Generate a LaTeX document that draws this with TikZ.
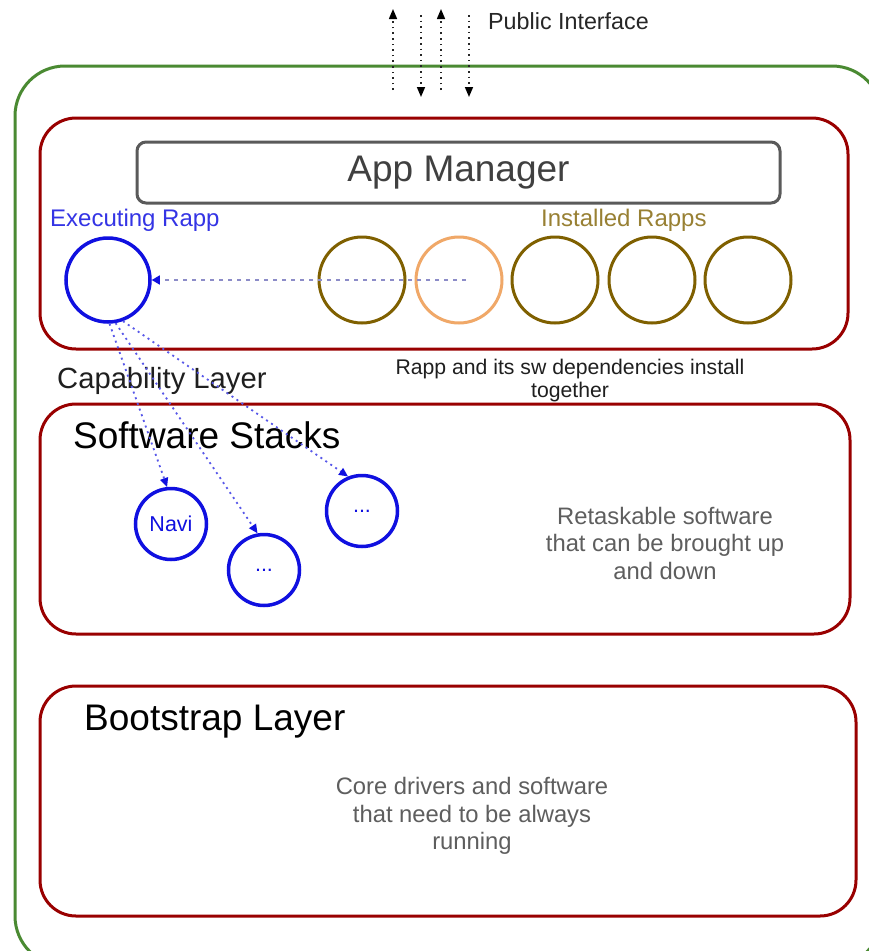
\documentclass[tikz,border=0pt]{standalone}
\usepackage{fontspec}
\setmainfont{Liberation Sans}
\usetikzlibrary{arrows.meta}

\definecolor{framegreen}{HTML}{4A8A32}
\definecolor{layerred}{HTML}{990000}
\definecolor{mgrgray}{HTML}{5A5A5A}
\definecolor{rappblue}{HTML}{1010E0}
\definecolor{olive}{HTML}{7F6000}
\definecolor{lightorange}{HTML}{F0A868}
\definecolor{notegray}{HTML}{5E5E5E}
\definecolor{flowblue}{HTML}{8C8CC8}

\tikzset{
  layerbox/.style={draw=layerred, line width=3pt, rounded corners=36pt},
  rapp/.style={circle, draw, line width=3pt, inner sep=0pt, minimum size=86pt},
  stackrapp/.style={circle, draw=rappblue, line width=3.5pt, inner sep=0pt,
                    minimum size=71pt, text=rappblue,
                    font=\fontsize{21.5}{26}\selectfont},
  bigtitle/.style={anchor=west, inner sep=0pt, font=\fontsize{37}{44}\selectfont},
  note/.style={align=center, inner sep=0pt, text=notegray,
               font=\fontsize{23.8}{27.5}\selectfont},
  iface/.style={dash pattern=on 1.6pt off 4pt, line width=1.5pt, black!85,
                -{Triangle[length=10pt,width=8pt,color=black]}},
  uses/.style={dash pattern=on 2pt off 4pt, line width=1.8pt, rappblue!70,
               -{Triangle[length=9pt,width=8pt,color=rappblue]}},
}

\begin{document}
\begin{tikzpicture}[x=1pt, y=-1pt]
  \useasboundingbox (0,0) rectangle (868,951);
  \fill[white] (0,0) rectangle (868,951);

  % robot frame, running past the lower right edge
  \draw[framegreen, line width=3pt, rounded corners=50pt] (15,66) rectangle (882,966);

  % public interface arrows
  \coordinate (up1a) at (393,90);  \coordinate (up1b) at (393,9);
  \coordinate (dn1a) at (421,15);  \coordinate (dn1b) at (421,97);
  \coordinate (up2a) at (441,90);  \coordinate (up2b) at (441,9);
  \coordinate (dn2a) at (469,15);  \coordinate (dn2b) at (469,97);
  \draw[iface] (up1a) -- (up1b);
  \draw[iface] (dn1a) -- (dn1b);
  \draw[iface] (up2a) -- (up2b);
  \draw[iface] (dn2a) -- (dn2b);
  \node[anchor=west, inner sep=0pt, text=black!85,
        font=\fontsize{23.3}{28}\selectfont] (pubif) at (488,21) {Public Interface};

  % layers
  \draw[layerbox] (40,118) rectangle (848,349);
  \draw[layerbox] (40,404) rectangle (850,634);
  \draw[layerbox] (40,686) rectangle (856,916);

  % app manager
  \node[draw=mgrgray, line width=3pt, rounded corners=9pt, minimum width=643pt,
        minimum height=61pt, inner sep=0pt, text=black!75,
        font=\fontsize{37}{44}\selectfont] (mgr) at (458.5,172.5)
       {\raisebox{-3pt}{App Manager}};

  % executing and installed rapps
  \node[anchor=west, inner sep=0pt, text=rappblue!85,
        font=\fontsize{24}{29}\selectfont] (exectxt) at (50,220) {Executing Rapp};
  \node[anchor=west, inner sep=0pt, text=olive!80,
        font=\fontsize{24}{29}\selectfont] (insttxt) at (541,220) {Installed Rapps};

  \node[rapp, draw=rappblue, line width=3.5pt, minimum size=84pt] (exec) at (108,280) {};
  \node[rapp, draw=olive]       (inst1) at (362,280) {};
  \node[rapp, draw=lightorange] (inst2) at (459,280) {};
  \node[rapp, draw=olive]       (inst3) at (555,280) {};
  \node[rapp, draw=olive]       (inst4) at (652,280) {};
  \node[rapp, draw=olive]       (inst5) at (748,280) {};

  \draw[dash pattern=on 4pt off 5pt, line width=1.5pt, flowblue,
        -{Triangle[length=8pt,width=9pt,color=rappblue]}]
       ([xshift=7pt]inst2.center) -- (exec);

  % capability layer labels
  \node[anchor=west, inner sep=0pt, text=black!88,
        font=\fontsize{29.2}{35}\selectfont] (caplbl) at (57,381) {Capability Layer};
  \node[align=center, inner sep=0pt, text=black!88,
        font=\fontsize{21.2}{23}\selectfont] (together) at (570,381)
       {Rapp and its sw dependencies install\\together};

  % software stacks
  \node[bigtitle] (swlbl) at (73,435) {Software Stacks};
  \node[stackrapp] (navi)  at (171,524) {Navi};
  \node[stackrapp] (midr)  at (264,570) {...};
  \node[stackrapp] (rightr) at (362,511) {...};
  \node[note] (retask) at (665,543)
       {Retaskable software\\that can be brought up\\and down};

  \draw[uses] (exec.-88) -- (navi.96);
  \draw[uses] (exec.-80) -- (midr.100);
  \draw[uses] (exec.-70) -- (rightr.112);

  % bootstrap layer
  \node[bigtitle] (bootlbl) at (84,722) {Bootstrap Layer};
  \node[note] (core) at (472,816)
       {Core drivers and software\\that need to be always\\running};
\end{tikzpicture}
\end{document}
